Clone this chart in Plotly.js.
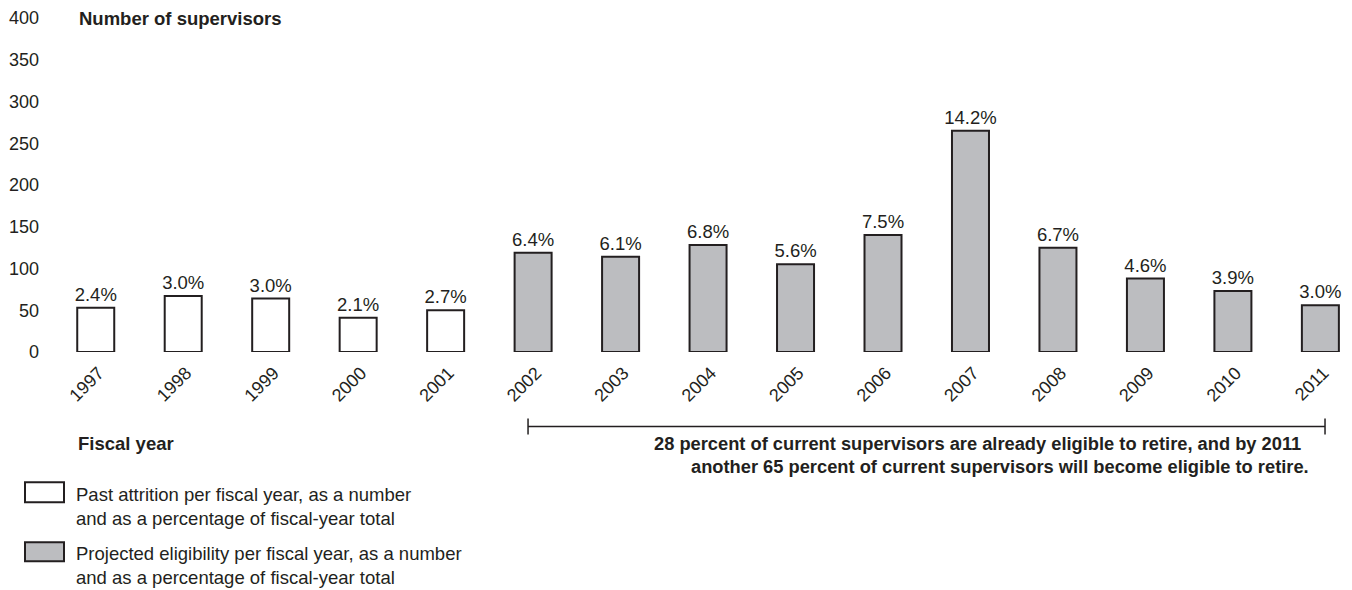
<!DOCTYPE html>
<html>
<head>
<meta charset="utf-8">
<script src="https://cdn.plot.ly/plotly-3.0.1.min.js"></script>
<style>html,body{margin:0;padding:0;background:#fff;}#chart{width:1352px;height:590px;}</style>
</head>
<body>
<div id="chart"></div>
<script>
// ---- data ----
const pastYears = ["1997", "1998", "1999", "2000", "2001"];
const pastValues = [53, 67, 64, 41, 50];
const pastPct = ["2.4%", "3.0%", "3.0%", "2.1%", "2.7%"];

const projYears = ["2002", "2003", "2004", "2005", "2006", "2007", "2008", "2009", "2010", "2011"];
const projValues = [119, 114, 128, 105, 140, 265, 125, 88, 73, 56];
const projPct = ["6.4%", "6.1%", "6.8%", "5.6%", "7.5%", "14.2%", "6.7%", "4.6%", "3.9%", "3.0%"];

const yTicks = [0, 50, 100, 150, 200, 250, 300, 350, 400];

const legendPast = "Past attrition per fiscal year, as a number<br>and as a percentage of fiscal-year total";
const legendProj = "Projected eligibility per fiscal year, as a number<br>and as a percentage of fiscal-year total";
const noteLine1 = "28 percent of current supervisors are already eligible to retire, and by 2011";
const noteLine2 = "another 65 percent of current supervisors will become eligible to retire.";

// ---- layout geometry ----
const W = 1352, H = 590;
const M = {l: 52, r: 1, t: 18, b: 237.5};
const PW = W - M.l - M.r, PH = H - M.t - M.b;
const px = x => (x - M.l) / PW;
const py = y => (H - M.b - y) / PH;

const ink = "#231f20";
const gray = "#bcbdc0";
const FONT = "Liberation Sans, Arial, Helvetica, sans-serif";

const traces = [
  {type: "bar", x: pastYears, y: pastValues, text: pastPct, textposition: "outside", constraintext: "none",
   marker: {color: "#ffffff", line: {color: ink, width: 2}},
   textfont: {size: 18.5, color: ink, family: FONT}, cliponaxis: false, hoverinfo: "x+y"},
  {type: "bar", x: projYears, y: projValues, text: projPct, textposition: "outside", constraintext: "none",
   marker: {color: gray, line: {color: ink, width: 2}},
   textfont: {size: 18.5, color: ink, family: FONT}, cliponaxis: false, hoverinfo: "x+y"}
];

const firstProj = pastYears.length;
const lastProj = pastYears.length + projYears.length - 1;

const layout = {
  width: W, height: H,
  margin: M,
  paper_bgcolor: "#fff", plot_bgcolor: "#fff",
  font: {family: FONT, color: ink, size: 18},
  showlegend: false,
  barmode: "overlay",
  bargap: 0.577,
  xaxis: {type: "category", range: [-0.5, 14.35], tickangle: -45, showgrid: false, zeroline: false,
          showline: false, ticks: "", ticklabelstandoff: 6, ticklabelshift: 3,
          tickfont: {size: 18, color: ink}, fixedrange: true},
  yaxis: {range: [0, 400], tickvals: yTicks, showgrid: false, zeroline: false, showline: false,
          ticks: "", ticklabelstandoff: 12, tickfont: {size: 18, color: ink}, fixedrange: true},
  shapes: [
    {type: "line", xref: "x", yref: "paper", x0: firstProj - 0.058, x1: lastProj + 0.053, y0: py(427), y1: py(427), line: {color: ink, width: 1.5}},
    {type: "line", xref: "x", yref: "paper", x0: firstProj - 0.058, x1: firstProj - 0.058, y0: py(419), y1: py(435), line: {color: ink, width: 1.5}},
    {type: "line", xref: "x", yref: "paper", x0: lastProj + 0.053, x1: lastProj + 0.053, y0: py(419), y1: py(435), line: {color: ink, width: 1.5}},
    {type: "rect", xref: "paper", yref: "paper", x0: px(25), x1: px(64), y0: py(483), y1: py(503), fillcolor: "#ffffff", line: {color: ink, width: 2}},
    {type: "rect", xref: "paper", yref: "paper", x0: px(25), x1: px(64), y0: py(543), y1: py(562), fillcolor: gray, line: {color: ink, width: 2}}
  ],
  annotations: [
    {text: "<b>Number of supervisors</b>", xref: "paper", yref: "paper", x: px(77), y: py(18), xanchor: "left", yanchor: "middle", showarrow: false, font: {size: 18.5, color: ink}},
    {text: "<b>Fiscal year</b>", xref: "paper", yref: "paper", x: px(76), y: py(444), xanchor: "left", yanchor: "middle", showarrow: false, font: {size: 18.5, color: ink}},
    {text: "<b>" + noteLine1 + "</b>", xref: "paper", yref: "paper", x: px(1303), y: py(444), xanchor: "right", yanchor: "middle", showarrow: false, font: {size: 18.3, color: ink}},
    {text: "<b>" + noteLine2 + "</b>", xref: "paper", yref: "paper", x: px(1311), y: py(467), xanchor: "right", yanchor: "middle", showarrow: false, font: {size: 18.3, color: ink}},
    {text: legendPast, xref: "paper", yref: "paper", x: px(74), y: py(507), xanchor: "left", yanchor: "middle", align: "left", showarrow: false, font: {size: 18.5, color: ink}},
    {text: legendProj, xref: "paper", yref: "paper", x: px(74), y: py(566), xanchor: "left", yanchor: "middle", align: "left", showarrow: false, font: {size: 18.5, color: ink}}
  ]
};

Plotly.newPlot("chart", traces, layout, {displayModeBar: false, staticPlot: true});
</script>
</body>
</html>
